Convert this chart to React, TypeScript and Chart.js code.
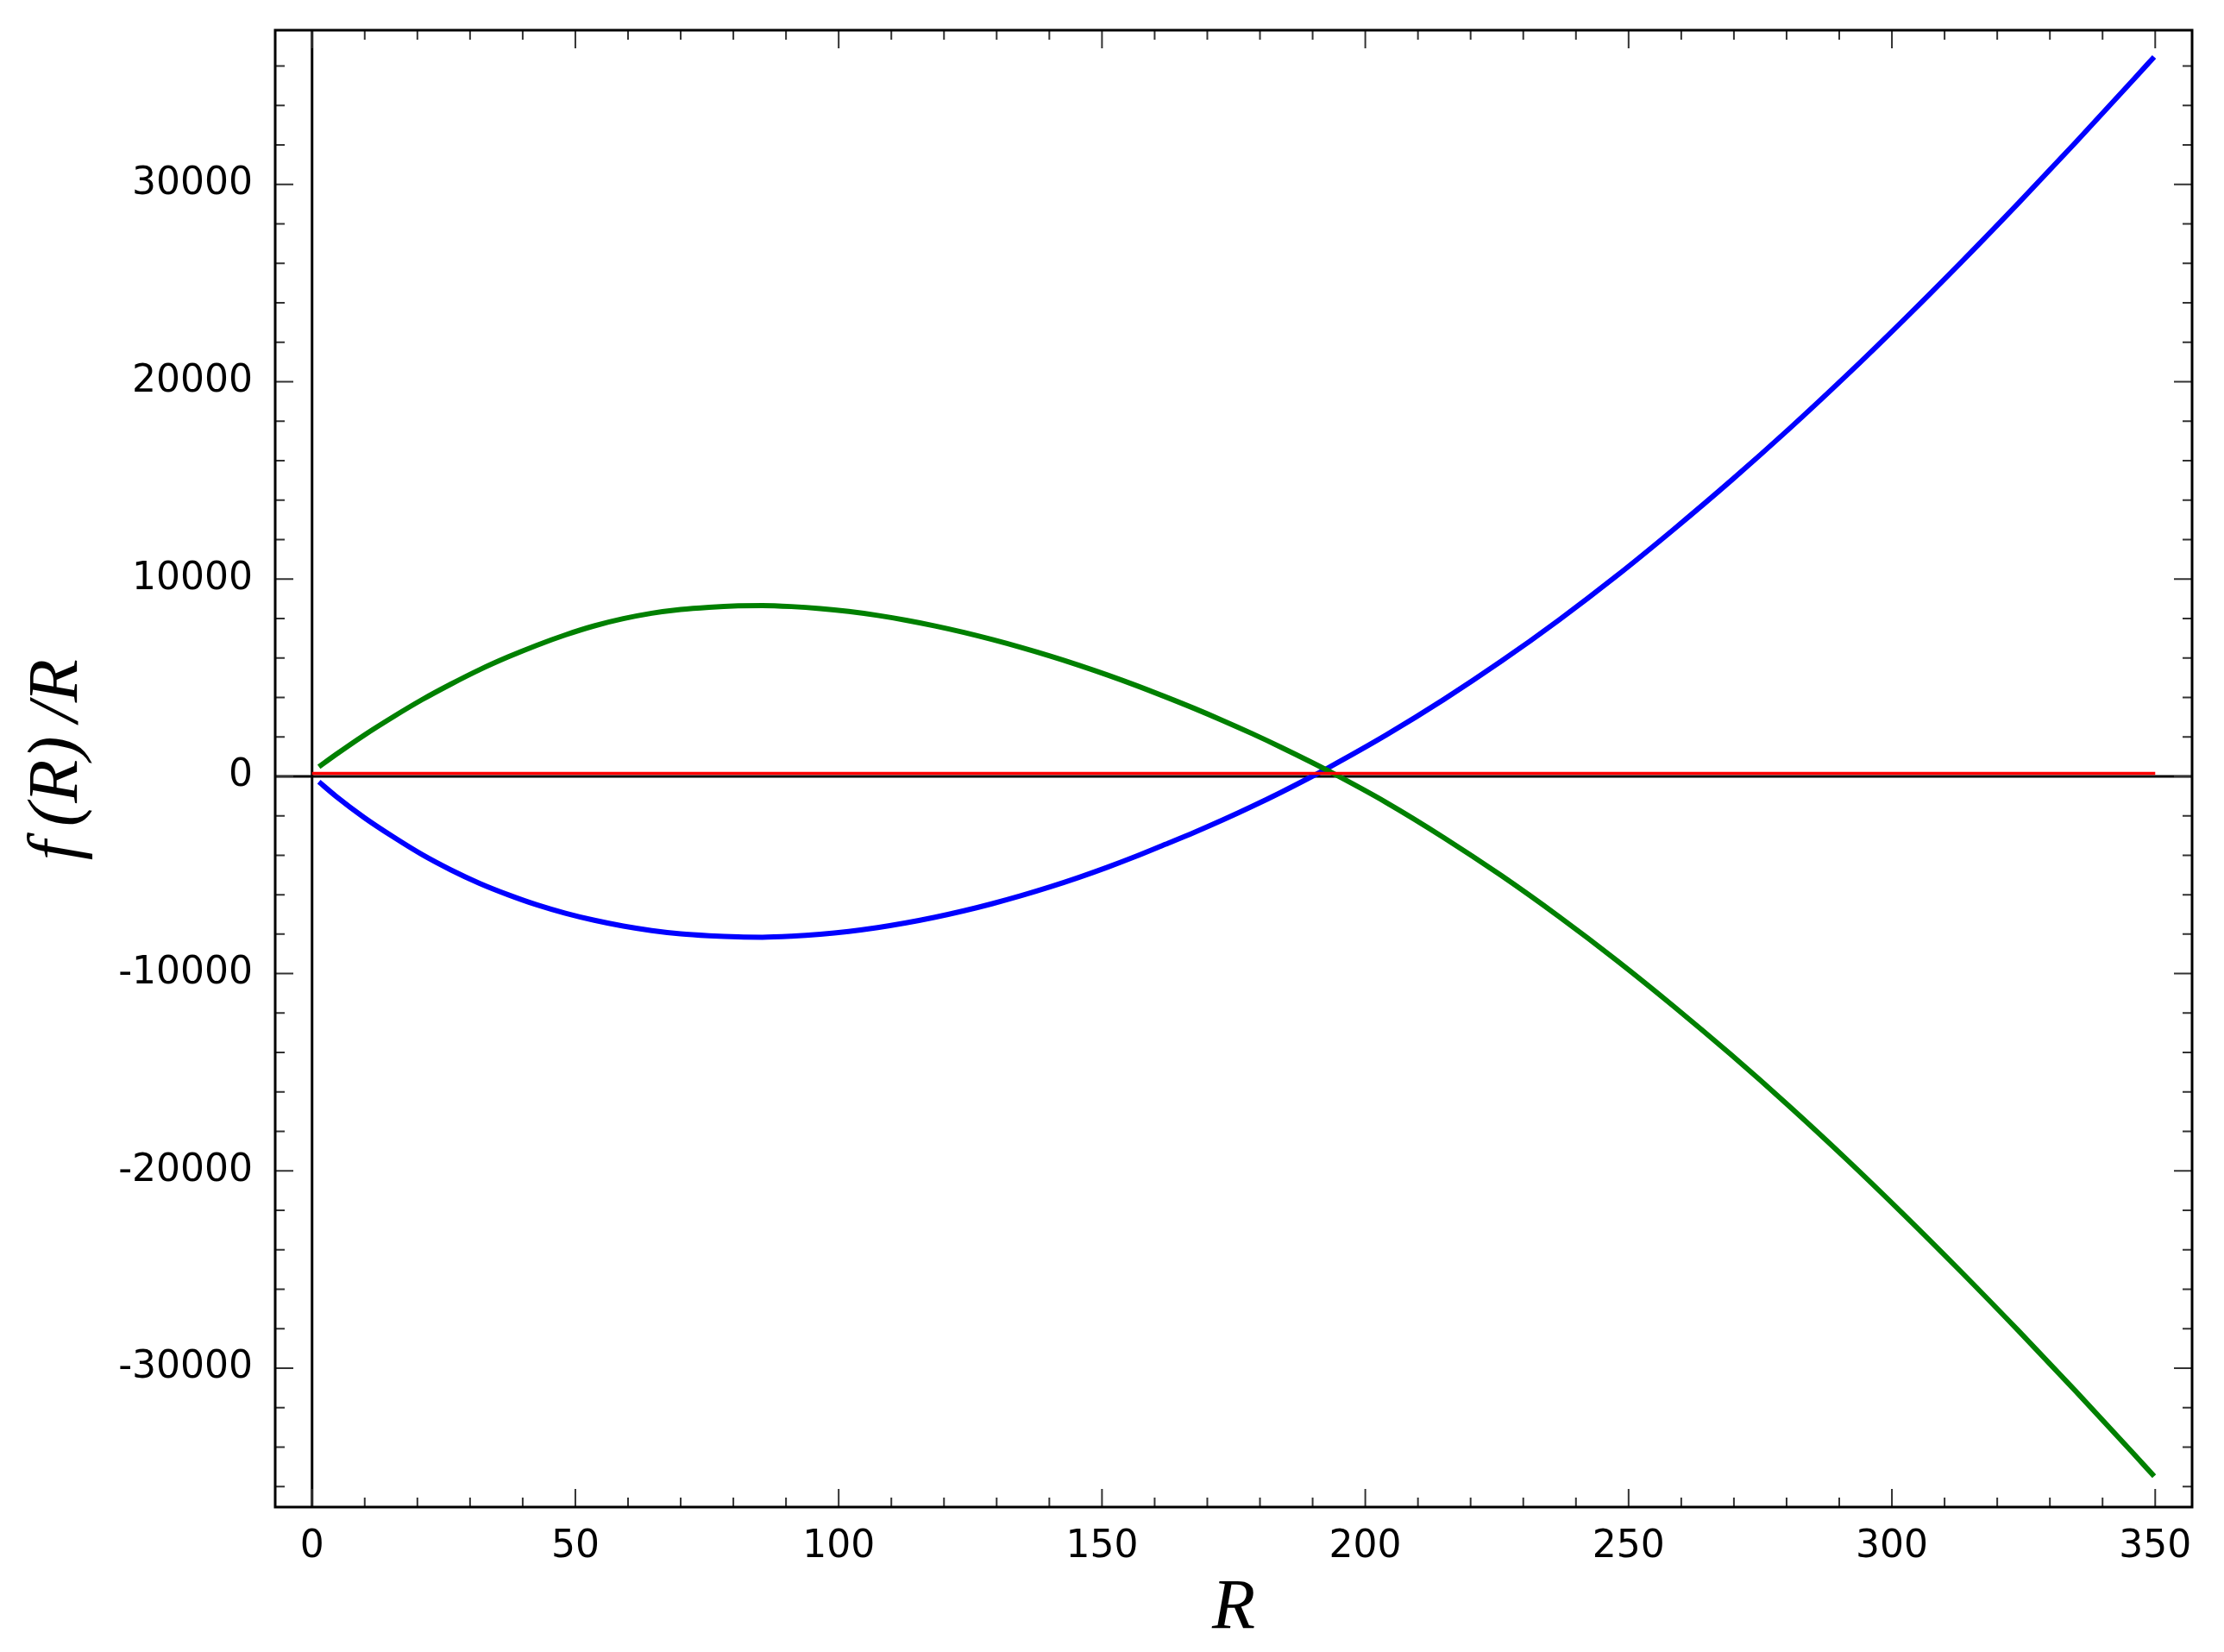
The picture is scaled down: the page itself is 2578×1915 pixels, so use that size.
import React, { useEffect, useRef } from "react";
import { Chart, registerables } from "chart.js";

Chart.register(...registerables);

// ---- data ----
const BLUE_R = [1.3, 4.5, 9.9, 15.4, 20.9, 26.3, 31.8, 37.2, 42.7, 48.1, 53.6, 59.1, 64.5, 70.0, 75.4, 80.9, 85.5, 91.0, 96.5, 101.9, 107.4, 112.8, 118.3, 123.8, 129.2, 134.7, 140.1, 145.6, 151.0, 156.5, 162.0, 167.5, 173.0, 178.5, 184.0, 189.5, 193.1, 204.0, 214.9, 225.8, 236.8, 247.7, 258.6, 269.5, 280.4, 291.3, 302.2, 313.1, 324.0, 334.9, 345.8, 349.8];
const BLUE_V = [-280, -1000, -2089, -3066, -3968, -4735, -5423, -5999, -6516, -6939, -7297, -7590, -7816, -7984, -8080, -8141, -8155, -8105, -8006, -7861, -7666, -7428, -7142, -6815, -6453, -6046, -5609, -5125, -4612, -4051, -3451, -2846, -2204, -1525, -810, -57, 455, 2102, 3894, 5830, 7930, 10156, 12527, 15000, 17590, 20300, 23124, 26043, 29050, 32136, 35294, 36469];

const GREEN_R = [1.3, 4.5, 9.9, 15.4, 20.9, 26.3, 31.8, 37.2, 42.7, 48.1, 53.6, 59.1, 64.5, 70.0, 75.4, 80.9, 85.5, 91.0, 96.5, 101.9, 107.4, 112.8, 118.3, 123.8, 129.2, 134.7, 140.1, 145.6, 151.0, 156.5, 162.0, 167.5, 173.0, 178.5, 184.0, 189.5, 193.1, 204.0, 214.9, 225.8, 236.8, 247.7, 258.6, 269.5, 280.4, 291.3, 302.2, 313.1, 324.0, 334.9, 345.8, 349.8];
const GREEN_V = [480, 1100, 2089, 3016, 3888, 4665, 5403, 6049, 6646, 7169, 7627, 7990, 8266, 8459, 8570, 8638, 8655, 8605, 8504, 8355, 8156, 7913, 7624, 7295, 6933, 6531, 6104, 5635, 5142, 4606, 4036, 3445, 2821, 2166, 1475, 752, 260, -1330, -3105, -5025, -7115, -9320, -11665, -14120, -16695, -19390, -22199, -25103, -28095, -31166, -34309, -35479];

const RED_R = [0, 350];
const RED_V = [150, 150];

const X_TICKS = [0, 50, 100, 150, 200, 250, 300, 350];
const Y_TICKS = [-30000, -20000, -10000, 0, 10000, 20000, 30000];
const X_MINOR_STEP = 10;
const Y_MINOR_STEP = 2000;
const X_MIN = -7;
const X_MAX = 357;
const Y_MIN = -37040;
const Y_MAX = 37820;
const X_TITLE = "R";
const Y_TITLE = " f\u2009(R)\u2009/R";

const W = 2578;
const H = 1915;

function pts(xs: number[], ys: number[]) {
  return xs.map((x, i) => ({ x, y: ys[i] }));
}

function range(a: number, b: number, step: number) {
  const out: number[] = [];
  for (let v = Math.ceil(a / step) * step; v <= b + 1e-9; v += step) out.push(v);
  return out;
}

const framePlugin = {
  id: "mplFrame",
  beforeDatasetsDraw(chart: any) {
    const { ctx, chartArea: a, scales } = chart;
    const x0 = scales.x.getPixelForValue(0);
    const y0 = scales.y.getPixelForValue(0);
    ctx.save();
    ctx.strokeStyle = "#000";
    ctx.lineWidth = 3;
    ctx.beginPath();
    ctx.moveTo(x0, a.top);
    ctx.lineTo(x0, a.bottom);
    ctx.moveTo(a.left, y0);
    ctx.lineTo(a.right, y0);
    ctx.stroke();
    ctx.restore();
  },
  afterDatasetsDraw(chart: any) {
    const { ctx, chartArea: a, scales } = chart;
    const xs = scales.x;
    const ys = scales.y;
    ctx.save();
    ctx.strokeStyle = "#333";
    ctx.lineWidth = 2;
    ctx.beginPath();
    const majorX = new Set(X_TICKS);
    const majorY = new Set(Y_TICKS);
    for (const v of range(X_MIN, X_MAX, X_MINOR_STEP)) {
      const len = majorX.has(v) ? 21 : 11;
      const p = xs.getPixelForValue(v);
      ctx.moveTo(p, a.bottom);
      ctx.lineTo(p, a.bottom - len);
      ctx.moveTo(p, a.top);
      ctx.lineTo(p, a.top + len);
    }
    for (const v of range(Y_MIN, Y_MAX, Y_MINOR_STEP)) {
      const len = majorY.has(v) ? 21 : 11;
      const p = ys.getPixelForValue(v);
      ctx.moveTo(a.left, p);
      ctx.lineTo(a.left + len, p);
      ctx.moveTo(a.right, p);
      ctx.lineTo(a.right - len, p);
    }
    ctx.stroke();
    ctx.strokeStyle = "#000";
    ctx.lineWidth = 3;
    ctx.strokeRect(a.left, a.top, a.right - a.left, a.bottom - a.top);
    ctx.restore();
  },
};

export default function App() {
  const ref = useRef<HTMLCanvasElement | null>(null);

  useEffect(() => {
    if (!ref.current) return;
    const tickFont = { family: "'DejaVu Sans', sans-serif", size: 44 };
    const titleFont = { family: "'Liberation Serif', serif", style: "italic" as const, size: 82 };
    const chart = new Chart(ref.current, {
      type: "line",
      data: {
        datasets: [
          {
            data: pts(RED_R, RED_V),
            borderColor: "#ff0000",
            borderWidth: 3.5,
            pointRadius: 0,
          },
          {
            data: pts(GREEN_R, GREEN_V),
            borderColor: "#008000",
            borderWidth: 6,
            pointRadius: 0,
            cubicInterpolationMode: "monotone",
          },
          {
            data: pts(BLUE_R, BLUE_V),
            borderColor: "#0000ff",
            borderWidth: 6,
            pointRadius: 0,
            cubicInterpolationMode: "monotone",
          },
        ],
      },
      options: {
        animation: false,
        responsive: false,
        devicePixelRatio: 1,
        events: [],
        layout: { padding: { left: 0, top: 35, right: 37, bottom: 0 } },
        plugins: { legend: { display: false }, tooltip: { enabled: false } },
        scales: {
          x: {
            type: "linear",
            min: X_MIN,
            max: X_MAX,
            grid: { display: false, drawTicks: false },
            border: { display: false },
            afterBuildTicks: (s: any) => {
              s.ticks = X_TICKS.map((value) => ({ value }));
            },
            afterFit: (s: any) => {
              s.height = H - 1747;
              s.paddingLeft = 0;
              s.paddingRight = 0;
            },
            ticks: {
              font: tickFont,
              color: "#000",
              padding: 20,
              maxRotation: 0,
              autoSkip: false,
              callback: (v: any) => String(v),
            },
            title: {
              display: true,
              text: X_TITLE,
              font: titleFont,
              color: "#000",
              padding: { top: 0, bottom: 0 },
            },
          },
          y: {
            type: "linear",
            min: Y_MIN,
            max: Y_MAX,
            grid: { display: false, drawTicks: false },
            border: { display: false },
            afterBuildTicks: (s: any) => {
              s.ticks = Y_TICKS.map((value) => ({ value }));
            },
            afterFit: (s: any) => {
              s.width = 319;
              s.paddingTop = 0;
              s.paddingBottom = 0;
            },
            ticks: {
              font: tickFont,
              color: "#000",
              padding: 26,
              autoSkip: false,
              callback: (v: any) => String(v),
            },
            title: {
              display: true,
              text: Y_TITLE,
              font: titleFont,
              color: "#000",
              padding: { top: 18, bottom: 0 },
            },
          },
        },
      },
      plugins: [framePlugin],
    });
    return () => chart.destroy();
  }, []);

  return (
    <canvas
      ref={ref}
      width={W}
      height={H}
      style={{ position: "fixed", left: 0, top: 0, display: "block", background: "#fff" }}
    />
  );
}
